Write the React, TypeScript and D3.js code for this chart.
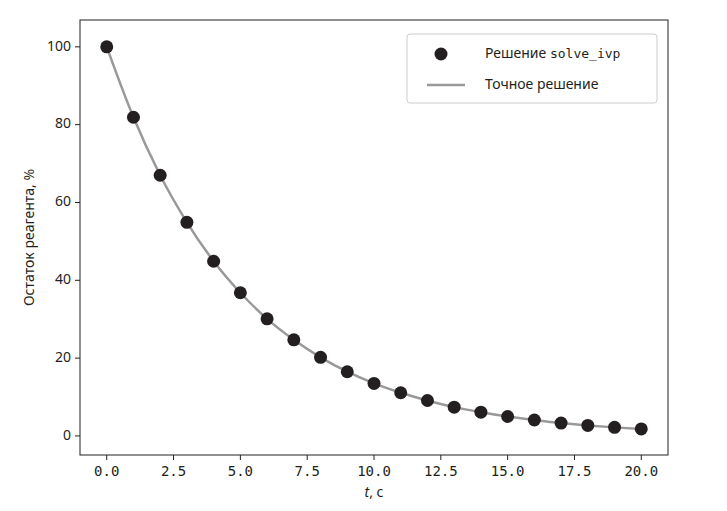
import { useEffect, useRef } from 'react';
import * as d3 from 'd3';

const T_VALUES = [0, 1, 2, 3, 4, 5, 6, 7, 8, 9, 10, 11, 12, 13, 14, 15, 16, 17, 18, 19, 20];
const REMAINING = [100, 81.9, 67.0, 54.9, 44.9, 36.8, 30.1, 24.7, 20.2, 16.5, 13.5, 11.1, 9.1, 7.4, 6.1, 5.0, 4.1, 3.3, 2.7, 2.2, 1.8];
const X_TICKS = [0, 2.5, 5, 7.5, 10, 12.5, 15, 17.5, 20];
const Y_TICKS = [0, 20, 40, 60, 80, 100];

const SANS = '"Noto Sans", "Open Sans", sans-serif';
const MONO = '"DejaVu Sans Mono", monospace';

export default function App() {
  const ref = useRef<SVGSVGElement>(null);

  useEffect(() => {
    if (!ref.current) return;
    const svg = d3.select(ref.current);
    svg.selectAll('*').remove();

    const left = 80, right = 668, top = 20, bottom = 455;
    const x = d3.scaleLinear().domain([-1, 21]).range([left, right]);
    const y = d3.scaleLinear().domain([-4.9, 106.9]).range([bottom, top]);
    const data = T_VALUES.map((t, i) => ({ t, v: REMAINING[i] }));

    const line = d3.line<{ t: number; v: number }>().x((d) => x(d.t)).y((d) => y(d.v)).curve(d3.curveMonotoneX);
    svg.append('path').attr('d', line(data)).attr('fill', 'none').attr('stroke', '#999').attr('stroke-width', 2.5);

    svg.selectAll('circle.pt').data(data).join('circle')
      .attr('cx', (d) => x(d.t)).attr('cy', (d) => y(d.v)).attr('r', 6.5).attr('fill', '#231f20');

    svg.append('rect').attr('x', left).attr('y', top).attr('width', right - left).attr('height', bottom - top)
      .attr('fill', 'none').attr('stroke', '#231f20').attr('stroke-width', 1);

    X_TICKS.forEach((t) => {
      svg.append('line').attr('x1', x(t)).attr('x2', x(t)).attr('y1', bottom).attr('y2', bottom + 5).attr('stroke', '#231f20');
      svg.append('text').attr('x', x(t)).attr('y', bottom + 21).attr('text-anchor', 'middle')
        .style('font-family', MONO).style('font-size', '14px').attr('fill', '#231f20').text(t.toFixed(1));
    });
    Y_TICKS.forEach((v) => {
      svg.append('line').attr('x1', left - 5).attr('x2', left).attr('y1', y(v)).attr('y2', y(v)).attr('stroke', '#231f20');
      svg.append('text').attr('x', left - 9).attr('y', y(v)).attr('text-anchor', 'end').attr('dominant-baseline', 'middle')
        .style('font-family', SANS).style('font-size', '14px').attr('fill', '#231f20').text(v);
    });

    const xl = svg.append('text').attr('x', (left + right) / 2).attr('y', 497).attr('text-anchor', 'middle')
      .style('font-family', SANS).style('font-size', '14px').attr('fill', '#231f20');
    xl.append('tspan').style('font-style', 'italic').text('t');
    xl.append('tspan').text(', с');

    svg.append('text').attr('transform', `translate(34,${(top + bottom) / 2}) rotate(-90)`).attr('text-anchor', 'middle')
      .style('font-family', SANS).style('font-size', '14px').attr('fill', '#231f20').text('Остаток реагента, %');

    const lg = svg.append('g').attr('transform', 'translate(407,34)');
    lg.append('rect').attr('width', 250).attr('height', 69).attr('rx', 3).attr('fill', '#fff').attr('stroke', '#ccc');
    lg.append('circle').attr('cx', 34).attr('cy', 20).attr('r', 6.5).attr('fill', '#231f20');
    const t1 = lg.append('text').attr('x', 78).attr('y', 20).attr('dominant-baseline', 'middle')
      .style('font-family', SANS).style('font-size', '14px').attr('fill', '#231f20');
    t1.append('tspan').text('Решение ');
    t1.append('tspan').style('font-family', MONO).style('font-size', '13px').text('solve_ivp');
    lg.append('line').attr('x1', 20).attr('x2', 58).attr('y1', 51).attr('y2', 51).attr('stroke', '#999').attr('stroke-width', 2.5);
    lg.append('text').attr('x', 78).attr('y', 51).attr('dominant-baseline', 'middle')
      .style('font-family', SANS).style('font-size', '14px').attr('fill', '#231f20').text('Точное решение');
  }, []);

  return <svg ref={ref} width={727} height={511} style={{ display: 'block', margin: '-8px 0 0 -8px' }} />;
}
